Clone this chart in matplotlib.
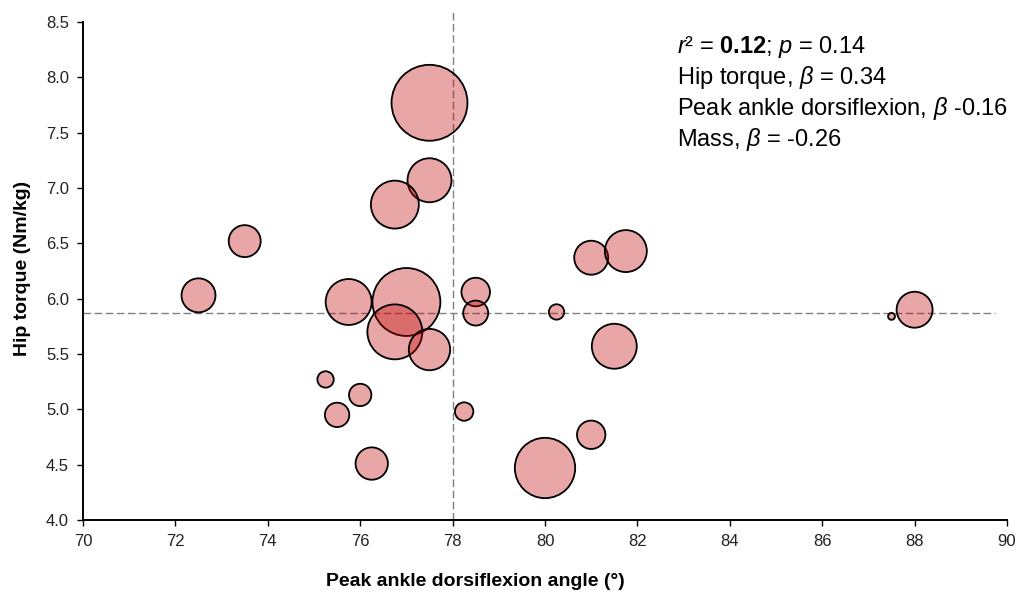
import matplotlib
matplotlib.use("Agg")
import matplotlib.pyplot as plt

plt.rcParams['font.family'] = ['Liberation Sans', 'DejaVu Sans']
plt.rcParams['mathtext.fontset'] = 'custom'
plt.rcParams['mathtext.rm'] = 'Liberation Sans'
plt.rcParams['mathtext.it'] = 'Liberation Sans:italic'
plt.rcParams['mathtext.bf'] = 'Liberation Sans:bold'

# Peak ankle dorsiflexion angle (deg), hip torque (Nm/kg), bubble size (relative mass)
dorsiflexion = [72.5, 73.5, 77.5, 77.5, 76.75, 75.75, 77.0, 76.75, 77.5, 78.5,
                78.5, 80.25, 75.25, 76.0, 75.5, 76.25, 78.25, 80.0, 81.0, 81.5,
                81.0, 81.75, 87.5, 88.0]
hip_torque = [6.03, 6.52, 7.77, 7.07, 6.85, 5.97, 5.97, 5.70, 5.54, 6.06,
              5.87, 5.88, 5.27, 5.13, 4.95, 4.51, 4.98, 4.47, 4.77, 5.57,
              6.37, 6.43, 5.84, 5.90]
bubble_value = [289, 256, 1444, 484, 576, 529, 1156, 756, 428, 204,
                156, 59, 67, 125, 149, 262, 85, 912, 202, 506,
                289, 441, 12, 324]

mean_torque = 5.873
mean_dorsiflexion = 78.0
ref_line_end = 89.74

xticks = [70, 72, 74, 76, 78, 80, 82, 84, 86, 88, 90]
yticks = [4.0, 4.5, 5.0, 5.5, 6.0, 6.5, 7.0, 7.5, 8.0, 8.5]

stats_lines = [
    r'$\mathit{r}$² = $\mathbf{0.12}$; $\mathit{p}$ = 0.14',
    r'Hip torque, $\mathit{β}$ = 0.34',
    r'Peak ankle dorsiflexion, $\mathit{β}$ -0.16',
    r'Mass, $\mathit{β}$ = -0.26',
]

W, H = 1021, 593
fig = plt.figure(figsize=(W / 100, H / 100), dpi=100)
ax = fig.add_axes([83 / W, (H - 520) / H, (1007 - 83) / W, (520 - 22) / H])

# reference lines
ax.plot([70, ref_line_end], [mean_torque, mean_torque], color='#808080',
        lw=1.0, dashes=(5.5, 2.5), zorder=1)
ax.plot([mean_dorsiflexion, mean_dorsiflexion], [4.0, 8.61], color='#808080',
        lw=1.0, dashes=(5.5, 2.5), zorder=1, clip_on=False)

# bubbles: area in points^2 from relative size
sizes = [v * 2.07 for v in bubble_value]
ax.scatter(dorsiflexion, hip_torque, s=sizes,
           facecolors=(0.753, 0.0, 0.0, 0.35), edgecolors='black',
           linewidths=1.3, zorder=2, clip_on=False)

ax.set_xlim(70, 90)
ax.set_ylim(4.0, 8.5)
ax.set_xticks(xticks)
ax.set_xticklabels([str(t) for t in xticks])
ax.set_yticks(yticks)
ax.set_yticklabels([f'{t:.1f}' for t in yticks])

for side in ('top', 'right'):
    ax.spines[side].set_visible(False)
for side in ('left', 'bottom'):
    ax.spines[side].set_linewidth(1.4)
    ax.spines[side].set_color('black')

ax.tick_params(axis='both', direction='out', length=4, width=1.0,
               labelsize=12, labelcolor='#222222', color='black')
ax.tick_params(axis='x', pad=6)
ax.tick_params(axis='y', pad=6)

fig.text(475 / W, 1 - 582 / H, 'Peak ankle dorsiflexion angle (°)',
         ha='center', va='center', fontsize=14, fontweight='bold')
fig.text(23 / W, 1 - 268 / H, 'Hip torque (Nm/kg)', rotation=90,
         ha='center', va='center', fontsize=14, fontweight='bold')

for i, line in enumerate(stats_lines):
    fig.text(677 / W, 1 - (53 + 31 * i) / H, line, ha='left',
             va='baseline', fontsize=17, color='black')

fig.savefig('out.png', dpi=100)
